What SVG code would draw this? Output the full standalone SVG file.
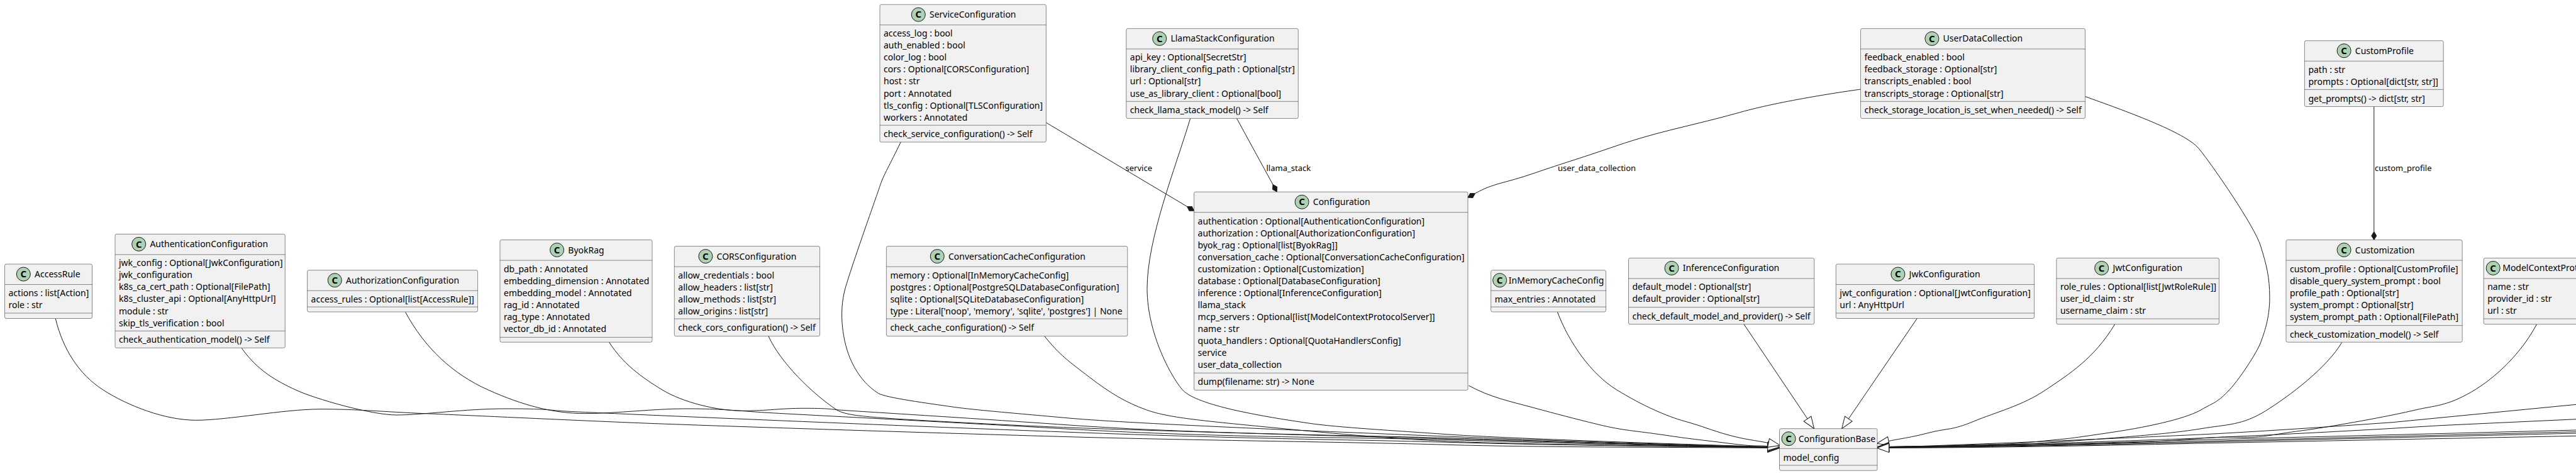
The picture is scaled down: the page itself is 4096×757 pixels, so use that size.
<svg xmlns="http://www.w3.org/2000/svg" width="4096" height="757" viewBox="0 0 4096 757">
<style>
text{font-family:"Noto Sans","DejaVu Sans",sans-serif;font-size:14px;fill:#000}
.b{fill:#F1F1F1;stroke:#181818;stroke-width:.5}
.s{stroke:#181818;stroke-width:.5}
.c{fill:#ADD1B2;stroke:#181818;stroke-width:1}
.g{font-weight:700;font-size:15px;text-anchor:middle}
.l{font-size:13px}
#connectors path{fill:none;stroke:#181818;stroke-width:1}
.e{marker-end:url(#ext)}
.d{marker-end:url(#dia)}
</style>
<defs>
<marker id="ext" markerUnits="userSpaceOnUse" markerWidth="24" markerHeight="20" viewBox="0 0 24 20" refX="0" refY="10" orient="auto" overflow="visible"><path d="M19 10L0 3L0 17Z" fill="#fff" stroke="#181818" stroke-width="1"/></marker>
<marker id="dia" markerUnits="userSpaceOnUse" markerWidth="16" markerHeight="12" viewBox="0 0 16 12" refX="0" refY="6" orient="auto" overflow="visible"><path d="M0 6L6.5 2L13 6L6.5 10Z" fill="#181818" stroke="#181818" stroke-width="1"/></marker>
</defs>
<g id="connectors">
<path class="e" d="M88.2 506.5C100 555 125 595 163.8 620S262 668.3 311.7 668.3S450 651 508 650.7S610 655 676.5 657.7S880 667 1000 672S1500 689 1700 694.7S2150 703 2300 707.3S2650 711 2811 712.4"/>
<path class="e" d="M384 553.3C410 590 440 606 470 620S590 660 630.6 660S740 650 804 650S870 652 900 654S1400 676 1700 687.3S2150 699 2300 703.3S2650 710 2811 711.8"/>
<path class="e" d="M644.7 496.4C675 553 720 595 776 620S880 657.6 930 657.6S1040 650 1089 650S1160 652 1200 655S1450 668 1700 682.3S2150 695 2300 699.5S2650 709 2811 711.4"/>
<path class="e" d="M968.6 544.2C990 578 1020 600 1053 620S1140 653.3 1180.6 653.3S1240 649.3 1277.6 649.3S1320 650.5 1331 651.7S1500 662 1700 676S2150 692 2300 696.5S2650 708 2811 711"/>
<path class="e" d="M1221.9 534.5C1240 575 1290 625 1331 652.3C1345 660 1370 662 1410 665S1600 676 1700 680S2150 694 2300 698S2650 708.5 2811 711.2"/>
<path class="e" d="M1660.8 534.5C1685 565 1700 575 1732.5 600S1790 640 1822.5 651.7S1900 668 2006 678.3S2200 697 2300 701.7S2650 709.5 2811 711.6"/>
<path class="e" d="M1432.2 226C1415 262 1405 278 1399.6 294.5S1355 420 1344 458.7S1340 545 1353.8 574.6S1385 618 1396.3 625.3S1480 642 1512 646.7S1600 656 1700 665S2150 688 2300 694S2650 707 2811 710.7"/>
<path class="e" d="M1892.7 188.3C1868 270 1824 380 1824 458.7S1870 612 1883.7 623.3S1930 645 1968 653.3S2040 667 2082.7 673.3S2220 685 2300 690.7S2650 706 2811 710.4"/>
<path class="e" d="M2335.4 613.2C2370 632 2400 638 2438 648.3S2500 665 2541 675S2600 685 2645 691.7S2700 699 2748 705S2790 708 2811 709.5"/>
<path class="e" d="M2476.5 496.4C2495 545 2530 595 2570.7 620S2650 662 2679 670S2720 684 2748 691.7S2790 700 2812 704.5"/>
<path class="e" d="M2773 515.7L2874 666"/>
<path class="e" d="M3048.6 506L2939.3 666"/>
<path class="e" d="M3362.7 515.7C3330 570 3290 595 3252.9 620S3175 655 3138.6 670S3100 680 3067 688.3S3030 696 3003 701.5"/>
<path class="e" d="M3315.6 153.5C3375 175 3475 210 3496.6 236.6S3585 360 3594.5 391S3608.9 440 3608.9 473.2S3600 530 3594.5 545S3560 605 3541.8 623.3S3520 640 3500 651.7S3430 677 3352.9 688.3S3300 696 3245.7 701.7S3180 706 3102.9 708.5S3060 709 3003.5 710.4"/>
<path class="e" d="M3723.9 544.2C3700 585 3640 630 3602.7 653.3S3540 675 3500 681.7S3400 694 3263 703.5S3080 708 3003.5 710.7"/>
<path class="e" d="M4033.5 515.7C4010 560 3970 600 3929.7 623.3S3870 645 3842 651.7S3770 667 3713 676.7S3660 684 3614 691.7S3560 692 3500 697S3400 704 3263 707S3080 709 3003.5 711"/>
<path class="e" d="M4096 643.3L3804 671.7Q3600 686 3500 691S3200 705 3003.5 711.2"/>
<path class="e" d="M4096 666.7L3880 676.7Q3700 688 3500 696.7S3300 705 3003.5 711.4"/>
<path class="e" d="M4096 684L3500 699.3Q3200 709 3003.5 711.6"/>
<path class="e" d="M4096 686.7L3500 701.7Q3200 710 3003.5 711.8"/>
<path class="e" d="M4096 689L3500 703.3Q3200 711 3003.5 712"/>
<path class="e" d="M4096 693.3L3500 705Q3200 712 3003.5 712.4"/>
<path class="d" d="M1663.4 195L1887.6 328.5"/>
<path class="d" d="M1966.5 188.3L2024 293.5"/>
<path class="d" d="M2958.5 142S2840 158 2766.5 178.7S2640 208 2570.5 231.8S2490 258 2440 275.2S2375 291 2345.4 307.7"/>
<path class="d" d="M3774.8 169.5L3774.8 368.5"/>
<text class="l" x="1789.5" y="272.3">service</text>
<text class="l" x="2013.5" y="272.3">llama_stack</text>
<text class="l" x="2477" y="272.3">user_data_collection</text>
<text class="l" x="3776" y="272.3">custom_profile</text>
</g>
<g id="AccessRule" transform="translate(7.5,420)"><rect class="b" width="139" height="86.5" rx="2.5"/><line class="s" x2="139" y1="32.5" y2="32.5"/><line class="s" x2="139" y1="78" y2="78"/><circle class="c" cx="29.8" cy="16" r="11"/><text class="g" x="29.8" y="21.3">C</text><text x="47.5" y="21">AccessRule</text><text x="6" y="51">actions : list[Action]</text><text x="6" y="70.1">role : str</text></g>
<g id="AuthenticationConfiguration" transform="translate(183,372.3)"><rect class="b" width="270.3" height="181" rx="2.5"/><line class="s" x2="270.3" y1="32.5" y2="32.5"/><line class="s" x2="270.3" y1="154" y2="154"/><circle class="c" cx="37.7" cy="16" r="11"/><text class="g" x="37.7" y="21.3">C</text><text x="55.4" y="21">AuthenticationConfiguration</text><text x="6" y="51">jwk_config : Optional[JwkConfiguration]</text><text x="6" y="70.1">jwk_configuration</text><text x="6" y="89.1">k8s_ca_cert_path : Optional[FilePath]</text><text x="6" y="108.2">k8s_cluster_api : Optional[AnyHttpUrl]</text><text x="6" y="127.3">module : str</text><text x="6" y="146.4">skip_tls_verification : bool</text><text x="6" y="173">check_authentication_model() -&gt; Self</text></g>
<g id="AuthorizationConfiguration" transform="translate(488.6,429.7)"><rect class="b" width="271" height="66.3" rx="2.5"/><line class="s" x2="271" y1="32.5" y2="32.5"/><line class="s" x2="271" y1="58.4" y2="58.4"/><circle class="c" cx="43.7" cy="16" r="11"/><text class="g" x="43.7" y="21.3">C</text><text x="61.4" y="21">AuthorizationConfiguration</text><text x="6" y="51">access_rules : Optional[list[AccessRule]]</text></g>
<g id="ByokRag" transform="translate(795,381.5)"><rect class="b" width="242" height="162.7" rx="2.5"/><line class="s" x2="242" y1="32.5" y2="32.5"/><line class="s" x2="242" y1="154.9" y2="154.9"/><circle class="c" cx="90.6" cy="16" r="11"/><text class="g" x="90.6" y="21.3">C</text><text x="108.3" y="21">ByokRag</text><text x="6" y="51">db_path : Annotated</text><text x="6" y="70.1">embedding_dimension : Annotated</text><text x="6" y="89.1">embedding_model : Annotated</text><text x="6" y="108.2">rag_id : Annotated</text><text x="6" y="127.3">rag_type : Annotated</text><text x="6" y="146.4">vector_db_id : Annotated</text></g>
<g id="CORSConfiguration" transform="translate(1072.3,391.6)"><rect class="b" width="231.3" height="143" rx="2.5"/><line class="s" x2="231.3" y1="32.5" y2="32.5"/><line class="s" x2="231.3" y1="115.4" y2="115.4"/><circle class="c" cx="49.6" cy="16" r="11"/><text class="g" x="49.6" y="21.3">C</text><text x="67.3" y="21">CORSConfiguration</text><text x="6" y="51">allow_credentials : bool</text><text x="6" y="70.1">allow_headers : list[str]</text><text x="6" y="89.1">allow_methods : list[str]</text><text x="6" y="108.2">allow_origins : list[str]</text><text x="6" y="134.5">check_cors_configuration() -&gt; Self</text></g>
<g id="ConversationCacheConfiguration" transform="translate(1409.4,391.6)"><rect class="b" width="383.4" height="143" rx="2.5"/><line class="s" x2="383.4" y1="32.5" y2="32.5"/><line class="s" x2="383.4" y1="115.4" y2="115.4"/><circle class="c" cx="80.9" cy="16" r="11"/><text class="g" x="80.9" y="21.3">C</text><text x="98.6" y="21">ConversationCacheConfiguration</text><text x="6" y="51">memory : Optional[InMemoryCacheConfig]</text><text x="6" y="70.1">postgres : Optional[PostgreSQLDatabaseConfiguration]</text><text x="6" y="89.1">sqlite : Optional[SQLiteDatabaseConfiguration]</text><text x="6" y="108.2">type : Literal['noop', 'memory', 'sqlite', 'postgres'] | None</text><text x="6" y="134.5">check_cache_configuration() -&gt; Self</text></g>
<g id="ServiceConfiguration" transform="translate(1399,7.2)"><rect class="b" width="264.4" height="218.8" rx="2.5"/><line class="s" x2="264.4" y1="32.5" y2="32.5"/><line class="s" x2="264.4" y1="192" y2="192"/><circle class="c" cx="61.3" cy="16" r="11"/><text class="g" x="61.3" y="21.3">C</text><text x="79" y="21">ServiceConfiguration</text><text x="6" y="51">access_log : bool</text><text x="6" y="70.1">auth_enabled : bool</text><text x="6" y="89.1">color_log : bool</text><text x="6" y="108.2">cors : Optional[CORSConfiguration]</text><text x="6" y="127.3">host : str</text><text x="6" y="146.4">port : Annotated</text><text x="6" y="165.4">tls_config : Optional[TLSConfiguration]</text><text x="6" y="184.5">workers : Annotated</text><text x="6" y="211">check_service_configuration() -&gt; Self</text></g>
<g id="LlamaStackConfiguration" transform="translate(1790.8,45.4)"><rect class="b" width="273.5" height="143" rx="2.5"/><line class="s" x2="273.5" y1="32.5" y2="32.5"/><line class="s" x2="273.5" y1="115.9" y2="115.9"/><circle class="c" cx="52.9" cy="16" r="11"/><text class="g" x="52.9" y="21.3">C</text><text x="70.6" y="21">LlamaStackConfiguration</text><text x="6" y="51">api_key : Optional[SecretStr]</text><text x="6" y="70.1">library_client_config_path : Optional[str]</text><text x="6" y="89.1">url : Optional[str]</text><text x="6" y="108.2">use_as_library_client : Optional[bool]</text><text x="6" y="135">check_llama_stack_model() -&gt; Self</text></g>
<g id="Configuration" transform="translate(1898.6,305.2)"><rect class="b" width="435.4" height="315.3" rx="2.5"/><line class="s" x2="435.4" y1="32.5" y2="32.5"/><line class="s" x2="435.4" y1="288" y2="288"/><circle class="c" cx="171.5" cy="16" r="11"/><text class="g" x="171.5" y="21.3">C</text><text x="189.2" y="21">Configuration</text><text x="6" y="52">authentication : Optional[AuthenticationConfiguration]</text><text x="6" y="71">authorization : Optional[AuthorizationConfiguration]</text><text x="6" y="90">byok_rag : Optional[list[ByokRag]]</text><text x="6" y="109">conversation_cache : Optional[ConversationCacheConfiguration]</text><text x="6" y="128">customization : Optional[Customization]</text><text x="6" y="147">database : Optional[DatabaseConfiguration]</text><text x="6" y="166">inference : Optional[InferenceConfiguration]</text><text x="6" y="185">llama_stack</text><text x="6" y="204">mcp_servers : Optional[list[ModelContextProtocolServer]]</text><text x="6" y="223">name : str</text><text x="6" y="242">quota_handlers : Optional[QuotaHandlersConfig]</text><text x="6" y="261">service</text><text x="6" y="280">user_data_collection</text><text x="6" y="307">dump(filename: str) -&gt; None</text></g>
<g id="InMemoryCacheConfig" transform="translate(2370.7,429.7)"><rect class="b" width="182.8" height="66.3" rx="2.5"/><line class="s" x2="182.8" y1="32.5" y2="32.5"/><line class="s" x2="182.8" y1="58.4" y2="58.4"/><circle class="c" cx="14" cy="16" r="11"/><text class="g" x="14" y="21.3">C</text><text x="28.1" y="21">InMemoryCacheConfig</text><text x="6" y="51">max_entries : Annotated</text></g>
<g id="InferenceConfiguration" transform="translate(2589.5,410.4)"><rect class="b" width="295.2" height="105.3" rx="2.5"/><line class="s" x2="295.2" y1="32.5" y2="32.5"/><line class="s" x2="295.2" y1="78.2" y2="78.2"/><circle class="c" cx="68.5" cy="16" r="11"/><text class="g" x="68.5" y="21.3">C</text><text x="86.2" y="21">InferenceConfiguration</text><text x="6" y="51">default_model : Optional[str]</text><text x="6" y="70.1">default_provider : Optional[str]</text><text x="6" y="97.4">check_default_model_and_provider() -&gt; Self</text></g>
<g id="JwkConfiguration" transform="translate(2919.3,420)"><rect class="b" width="315.3" height="86.5" rx="2.5"/><line class="s" x2="315.3" y1="32.5" y2="32.5"/><line class="s" x2="315.3" y1="78" y2="78"/><circle class="c" cx="98.6" cy="16" r="11"/><text class="g" x="98.6" y="21.3">C</text><text x="116.3" y="21">JwkConfiguration</text><text x="6" y="51">jwt_configuration : Optional[JwtConfiguration]</text><text x="6" y="70.1">url : AnyHttpUrl</text></g>
<g id="ConfigurationBase" transform="translate(2829.5,681.7)"><rect class="b" width="155.5" height="66.6" rx="2.5"/><line class="s" x2="155.5" y1="31.6" y2="31.6"/><line class="s" x2="155.5" y1="58.3" y2="58.3"/><circle class="c" cx="14.5" cy="16" r="11"/><text class="g" x="14.5" y="21.3">C</text><text x="30.2" y="21">ConfigurationBase</text><text x="6" y="51">model_config</text></g>
<g id="UserDataCollection" transform="translate(2958.5,45.4)"><rect class="b" width="357.1" height="143" rx="2.5"/><line class="s" x2="357.1" y1="32.5" y2="32.5"/><line class="s" x2="357.1" y1="115.9" y2="115.9"/><circle class="c" cx="113.4" cy="16" r="11"/><text class="g" x="113.4" y="21.3">C</text><text x="131.1" y="21">UserDataCollection</text><text x="6" y="51">feedback_enabled : bool</text><text x="6" y="70.1">feedback_storage : Optional[str]</text><text x="6" y="89.1">transcripts_enabled : bool</text><text x="6" y="108.2">transcripts_storage : Optional[str]</text><text x="6" y="135">check_storage_location_is_set_when_needed() -&gt; Self</text></g>
<g id="JwtConfiguration" transform="translate(3269.9,410.4)"><rect class="b" width="258.6" height="105.3" rx="2.5"/><line class="s" x2="258.6" y1="32.5" y2="32.5"/><line class="s" x2="258.6" y1="96.6" y2="96.6"/><circle class="c" cx="71.8" cy="16" r="11"/><text class="g" x="71.8" y="21.3">C</text><text x="89.5" y="21">JwtConfiguration</text><text x="6" y="51">role_rules : Optional[list[JwtRoleRule]]</text><text x="6" y="70.1">user_id_claim : str</text><text x="6" y="89.1">username_claim : str</text></g>
<g id="CustomProfile" transform="translate(3664.4,64.7)"><rect class="b" width="220.8" height="104.8" rx="2.5"/><line class="s" x2="220.8" y1="32.5" y2="32.5"/><line class="s" x2="220.8" y1="77.7" y2="77.7"/><circle class="c" cx="62.7" cy="16" r="11"/><text class="g" x="62.7" y="21.3">C</text><text x="80.4" y="21">CustomProfile</text><text x="6" y="51">path : str</text><text x="6" y="70.1">prompts : Optional[dict[str, str]]</text><text x="6" y="97">get_prompts() -&gt; dict[str, str]</text></g>
<g id="Customization" transform="translate(3635,381.5)"><rect class="b" width="280.2" height="162.7" rx="2.5"/><line class="s" x2="280.2" y1="32.5" y2="32.5"/><line class="s" x2="280.2" y1="136.1" y2="136.1"/><circle class="c" cx="92.1" cy="16" r="11"/><text class="g" x="92.1" y="21.3">C</text><text x="109.8" y="21">Customization</text><text x="6" y="51">custom_profile : Optional[CustomProfile]</text><text x="6" y="70.1">disable_query_system_prompt : bool</text><text x="6" y="89.1">profile_path : Optional[str]</text><text x="6" y="108.2">system_prompt : Optional[str]</text><text x="6" y="127.3">system_prompt_path : Optional[FilePath]</text><text x="6" y="155">check_customization_model() -&gt; Self</text></g>
<g id="ModelContextProtocolServer" transform="translate(3949.2,410.4)"><rect class="b" width="230" height="105.3" rx="2.5"/><line class="s" x2="230" y1="32.5" y2="32.5"/><line class="s" x2="230" y1="96.6" y2="96.6"/><circle class="c" cx="15" cy="16" r="11"/><text class="g" x="15" y="21.3">C</text><text x="30" y="21">ModelContextProtocolServer</text><text x="6" y="51">name : str</text><text x="6" y="70.1">provider_id : str</text><text x="6" y="89.1">url : str</text></g>
</svg>
